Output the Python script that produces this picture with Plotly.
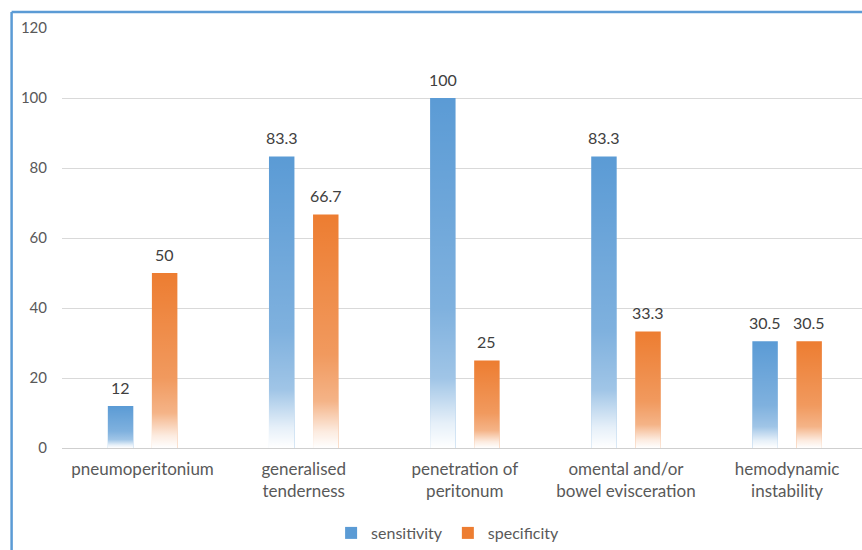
import plotly.graph_objects as go

# Diagnostic signs and their sensitivity / specificity (%)
categories = [
    "pneumoperitonium",
    "generalised<br>tenderness",
    "penetration of<br>peritonum",
    "omental and/or<br>bowel evisceration",
    "hemodynamic<br>instability",
]
sensitivity = [12, 83.3, 100, 83.3, 30.5]
specificity = [50, 66.7, 25, 33.3, 30.5]
y_ticks = [0, 20, 40, 60, 80, 100, 120]

BLUE = "#5B9BD5"
ORANGE = "#ED7D31"
FONT = "Lato"
BAR_W = 0.158
OFFSETS = {"sensitivity": -0.2155, "specificity": 0.058}

x_pos = list(range(len(categories)))

fig = go.Figure()

series = [("sensitivity", sensitivity, BLUE), ("specificity", specificity, ORANGE)]
for name, vals, color in series:
    fig.add_trace(go.Bar(
        x=x_pos, y=vals, name=name,
        width=BAR_W, offset=OFFSETS[name],
        marker=dict(color=color, line=dict(width=0)),
        hoverinfo="skip",
    ))

# White fade toward the base of every bar
fade = [
    [0.0, "rgba(255,255,255,1)"],
    [0.07, "rgba(255,255,255,0.85)"],
    [0.2, "rgba(255,255,255,0.42)"],
    [0.4, "rgba(255,255,255,0.22)"],
    [1.0, "rgba(255,255,255,0)"],
]
for name, vals, color in series:
    for i, v in zip(x_pos, vals):
        x0 = i + OFFSETS[name]
        x1 = x0 + BAR_W
        fig.add_trace(go.Scatter(
            x=[x0, x1, x1, x0, x0], y=[0, 0, v, v, 0],
            mode="lines", line=dict(width=0), fill="toself",
            fillgradient=dict(type="vertical", colorscale=fade),
            showlegend=False, hoverinfo="skip",
        ))

# Value labels above the bars
for name, vals, color in series:
    for i, v in zip(x_pos, vals):
        fig.add_annotation(
            x=i + OFFSETS[name] + BAR_W / 2, y=v,
            text=f"{v:g}", showarrow=False,
            yanchor="middle", yshift=19,
            font=dict(family=FONT, size=16, color="#404040"),
        )

# Frame lines on the left and top edges
frame = dict(color=BLUE, width=2.5)
fig.add_shape(type="line", xref="paper", yref="paper",
              x0=-0.063, x1=-0.063, y0=1.038, y1=-0.3, line=frame)
fig.add_shape(type="line", xref="paper", yref="paper",
              x0=-0.063, x1=1.05, y0=1.038, y1=1.038, line=frame)

fig.update_layout(
    width=862, height=550,
    margin=dict(l=62, r=0, t=28, b=102),
    paper_bgcolor="white", plot_bgcolor="white",
    barmode="overlay",
    font=dict(family=FONT, size=15, color="#595959"),
    showlegend=True,
    legend=dict(
        orientation="h", x=0.482, xanchor="center", y=-0.203, yanchor="middle",
        font=dict(family=FONT, size=16, color="#595959"),
        itemwidth=30, traceorder="normal",
    ),
    xaxis=dict(
        range=[-0.5, 4.465], tickvals=x_pos, ticktext=categories,
        showgrid=False, zeroline=False, showline=False, ticks="",
        tickfont=dict(family=FONT, size=17, color="#595959"),
        ticklabelstandoff=9,
    ),
    yaxis=dict(
        range=[0, 120], tickvals=y_ticks, showgrid=True,
        gridcolor="#D9D9D9", gridwidth=1,
        zeroline=True, zerolinecolor="#CFCFCF", zerolinewidth=1,
        showline=False, ticks="",
        tickfont=dict(family=FONT, size=15, color="#595959"),
        ticklabelstandoff=14,
    ),
)

fig.write_html("out.html")
